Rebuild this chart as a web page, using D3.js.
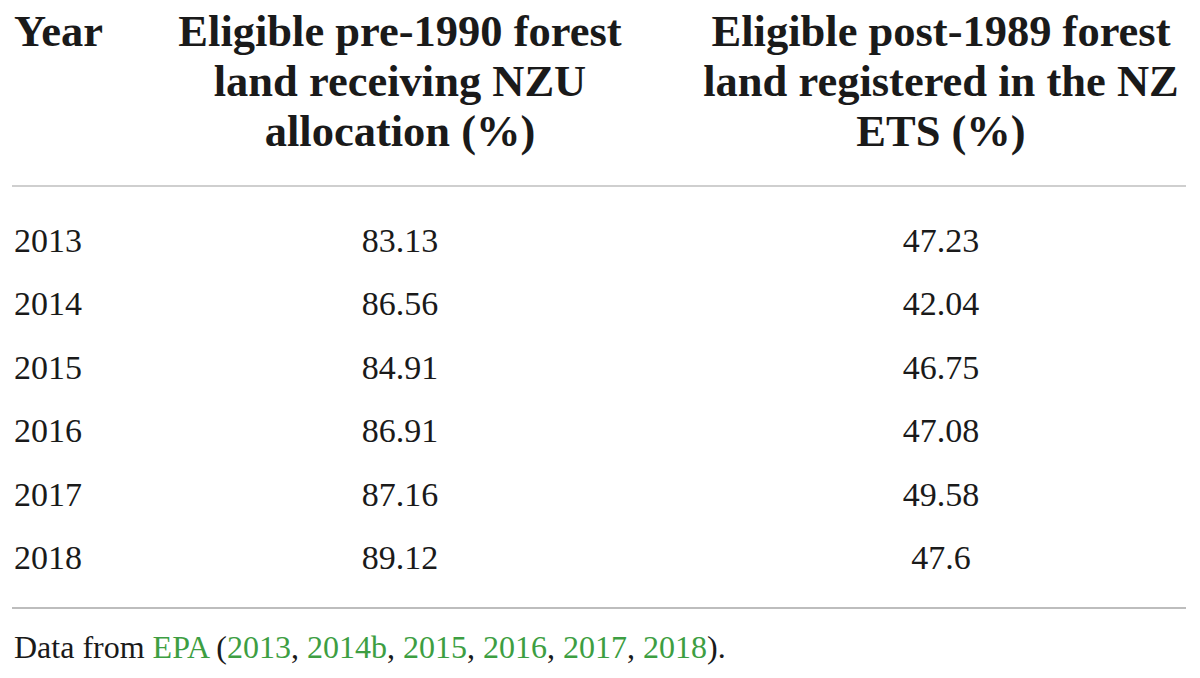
<!DOCTYPE html>
<html>
<head>
<meta charset="utf-8">
<script src="https://cdn.jsdelivr.net/npm/d3@7"></script>
<style>
  html, body { margin: 0; padding: 0; background: #fff; }
  svg { display: block; font-family: "Liberation Serif", "Times New Roman", serif; }
</style>
</head>
<body>
<div id="chart"></div>
<script>
// Table data (EPA 2013–2018)
const years = ['2013', '2014', '2015', '2016', '2017', '2018'];
const pre1990 = ['83.13', '86.56', '84.91', '86.91', '87.16', '89.12'];
const post1989 = ['47.23', '42.04', '46.75', '47.08', '49.58', '47.6'];
const headers = [
  ['Year'],
  ['Eligible pre-1990 forest', 'land receiving NZU', 'allocation (%)'],
  ['Eligible post-1989 forest', 'land registered in the NZ', 'ETS (%)'],
];
const sourceParts = [
  { t: 'Data from ', link: false },
  { t: 'EPA', link: true },
  { t: ' (', link: false },
  { t: '2013', link: true },
  { t: ', ', link: false },
  { t: '2014b', link: true },
  { t: ', ', link: false },
  { t: '2015', link: true },
  { t: ', ', link: false },
  { t: '2016', link: true },
  { t: ', ', link: false },
  { t: '2017', link: true },
  { t: ', ', link: false },
  { t: '2018', link: true },
  { t: ').', link: false },
];

const width = 1200, height = 678;
const svg = d3.select('#chart').append('svg')
  .attr('width', width).attr('height', height)
  .attr('viewBox', `0 0 ${width} ${height}`);

// column positions: year left-aligned, value columns centred
const colX = [14, 400, 941];
const anchors = ['start', 'middle', 'middle'];

// header
const head = svg.append('g').attr('font-weight', 'bold').attr('font-size', 44.5).attr('fill', '#1a1a1a');
headers.forEach((lines, i) => {
  head.append('text')
    .attr('x', colX[i]).attr('y', 46)
    .attr('text-anchor', anchors[i])
    .selectAll('tspan').data(lines).join('tspan')
    .attr('x', colX[i]).attr('dy', (d, j) => (j === 0 ? 0 : 50))
    .text((d) => d);
});

// rules
svg.append('line').attr('x1', 12).attr('x2', 1186).attr('y1', 186).attr('y2', 186)
  .attr('stroke', '#cfcfcf').attr('stroke-width', 2);
svg.append('line').attr('x1', 12).attr('x2', 1186).attr('y1', 608).attr('y2', 608)
  .attr('stroke', '#bdbdbd').attr('stroke-width', 2);

// body rows
const y = d3.scaleBand().domain(years).range([208, 589]);
const rows = svg.append('g').attr('font-size', 34).attr('fill', '#1a1a1a');
const rowData = years.map((yr, i) => [yr, pre1990[i], post1989[i]]);
rowData.forEach((r) => {
  r.forEach((v, c) => {
    rows.append('text')
      .attr('x', colX[c])
      .attr('y', y(r[0]) + y.bandwidth() / 2 + 12)
      .attr('text-anchor', anchors[c])
      .text(v);
  });
});

// source note
svg.append('text')
  .attr('x', 14).attr('y', 658).attr('font-size', 32).attr('fill', '#1a1a1a')
  .selectAll('tspan').data(sourceParts).join('tspan')
  .attr('fill', (d) => (d.link ? '#3d9e42' : '#1a1a1a'))
  .text((d) => d.t);
</script>
</body>
</html>
